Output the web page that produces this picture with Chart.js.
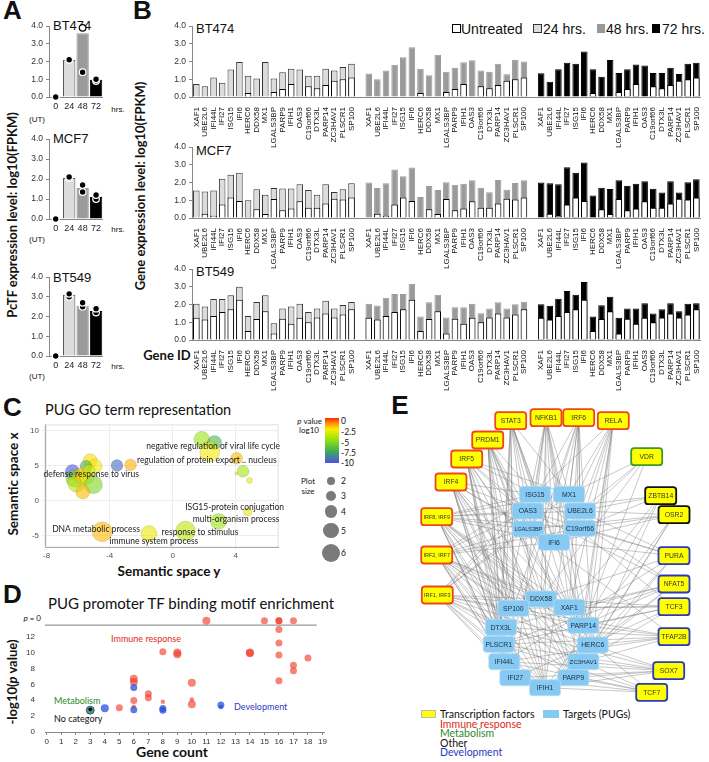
<!DOCTYPE html>
<html><head><meta charset="utf-8">
<script src="https://cdn.jsdelivr.net/npm/chart.js@4.4.1/dist/chart.umd.min.js"></script>
<style>
html,body{margin:0;padding:0;background:#fff}
body{position:relative;width:709px;height:762px;overflow:hidden;font-family:'Liberation Sans Narrow','Liberation Sans',Arial,sans-serif;color:#111}
canvas{position:absolute}
.t{position:absolute;white-space:nowrap;line-height:1}
.c{transform:translate(-50%,-50%)}
.l{transform:translate(0,-50%)}
.r{transform:translate(-100%,-50%)}
.v{transform:translate(-50%,-50%) rotate(-90deg)}
.letter{font-family:'Liberation Sans',Arial,sans-serif;font-weight:bold;font-size:26px}
.ttl{font-family:Lato,'Open Sans',sans-serif}
.b{font-weight:bold}
.sw{position:absolute;box-sizing:border-box}
</style></head><body>

<div class="t letter c" style="left:12.5px;top:10px">A</div>
<div class="t letter c" style="left:142.5px;top:10px">B</div>
<div class="t letter c" style="left:12.5px;top:407px">C</div>
<div class="t letter c" style="left:12.5px;top:594px">D</div>
<div class="t letter c" style="left:400px;top:405px">E</div>

<!-- panel A / B axis titles -->
<div class="t v b ttl" style="left:12px;top:215px;font-size:13px">PcTF expression level: log10(FPKM)</div>
<div class="t v b ttl" style="left:140px;top:186px;font-size:13px">Gene expression level: log10(FPKM)</div>
<div class="t c b ttl" style="left:167px;top:355px;font-size:13px">Gene ID</div>

<!-- panel A titles and extra labels -->
<div class="t l" style="left:53px;top:25px;font-size:13px">BT474</div>
<div class="t l" style="left:53px;top:138px;font-size:13px">MCF7</div>
<div class="t l" style="left:53px;top:277px;font-size:13px">BT549</div>
<div class="t c" style="left:118px;top:110px;font-size:8px">hrs.</div>
<div class="t c" style="left:118px;top:230px;font-size:8px">hrs.</div>
<div class="t c" style="left:118px;top:367px;font-size:8px">hrs.</div>
<div class="t c" style="left:37px;top:120px;font-size:8px">(UT)</div>
<div class="t c" style="left:37px;top:240px;font-size:8px">(UT)</div>
<div class="t c" style="left:37px;top:377px;font-size:8px">(UT)</div>

<!-- panel B row titles and legend -->
<div class="t l" style="left:196px;top:28px;font-size:13px">BT474</div>
<div class="t l" style="left:196px;top:150px;font-size:13px">MCF7</div>
<div class="t l" style="left:196px;top:271px;font-size:13px">BT549</div>
<div class="sw" style="left:452px;top:24px;width:9px;height:9px;border:1.3px solid #000;background:#fff"></div>
<div class="t l" style="left:461px;top:28.5px;font-size:14px">Untreated</div>
<div class="sw" style="left:533px;top:24px;width:9px;height:9px;border:1.3px solid #333;background:#dcdcdc"></div>
<div class="t l" style="left:543px;top:28.5px;font-size:14px">24 hrs.</div>
<div class="sw" style="left:597px;top:24px;width:8px;height:9px;background:#9a9a9a"></div>
<div class="t l" style="left:606px;top:28.5px;font-size:14px">48 hrs.</div>
<div class="sw" style="left:652px;top:24px;width:8px;height:9px;background:#000"></div>
<div class="t l" style="left:662px;top:28.5px;font-size:14px">72 hrs.</div>

<!-- panel C texts -->
<div class="t l ttl" style="left:45px;top:410px;font-size:14.5px">PUG GO term representation</div>
<div class="t v b ttl" style="left:14px;top:484px;font-size:13.5px">Semantic space x</div>
<div class="t c b ttl" style="left:169px;top:572px;font-size:13.5px">Semantic space y</div>
<div class="t r ttl" style="left:322px;top:421px;font-size:8px"><i>p</i> value</div>
<div class="t c ttl" style="left:309px;top:430px;font-size:8px">log10</div>
<div class="sw" style="left:325px;top:418px;width:14px;height:45px;background:linear-gradient(to bottom,rgb(255,40,0),rgb(255,150,0) 12.5%,rgb(255,235,0) 25%,rgb(140,225,20) 50%,rgb(60,170,90) 75%,rgb(80,80,230))"></div>
<div class="t l ttl" style="left:341px;top:421px;font-size:8.5px">0</div>
<div class="t l ttl" style="left:341px;top:432px;font-size:8.5px">-2.5</div>
<div class="t l ttl" style="left:341px;top:443px;font-size:8.5px">-5</div>
<div class="t l ttl" style="left:341px;top:453px;font-size:8.5px">-7.5</div>
<div class="t l ttl" style="left:341px;top:463px;font-size:8.5px">-10</div>
<div class="t c ttl" style="left:308px;top:481px;font-size:8px">Plot</div>
<div class="t c ttl" style="left:308px;top:491px;font-size:8px">size</div>

<!-- panel D texts -->
<div class="t l ttl" style="left:48px;top:603px;font-size:15px">PUG promoter TF binding motif enrichment</div>
<div class="t v b ttl" style="left:12px;top:682px;font-size:13px">-log10(<i>p</i> value)</div>
<div class="t c b ttl" style="left:172px;top:752px;font-size:14px">Gene count</div>
<div class="t c ttl" style="left:146px;top:638px;font-size:9px;color:#e02a1a">Immune response</div>
<div class="t l ttl" style="left:54px;top:700px;font-size:9px;color:#2a8a2a">Metabolism</div>
<div class="t l ttl" style="left:54px;top:718px;font-size:9px;color:#111">No category</div>
<div class="t l ttl" style="left:234px;top:706px;font-size:9px;color:#2a3ac0">Development</div>
<div class="t r ttl" style="left:41px;top:618px;font-size:8px"><i>p</i> = 0</div>

<!-- panel E legend -->
<div class="sw" style="left:421px;top:710px;width:15px;height:8px;background:#ffff00;border:1px solid #bbb"></div>
<div class="t l ttl" style="left:440px;top:714px;font-size:10.5px">Transcription factors</div>
<div class="t l ttl" style="left:440px;top:723.5px;font-size:10.5px;color:#e0281a">Immune response</div>
<div class="t l ttl" style="left:440px;top:733px;font-size:10.5px;color:#2a8a2a">Metabolism</div>
<div class="t l ttl" style="left:440px;top:743px;font-size:10.5px;color:#111">Other</div>
<div class="t l ttl" style="left:440px;top:752px;font-size:10.5px;color:#2a3ac0">Development</div>
<div class="sw" style="left:543px;top:710px;width:16px;height:8px;background:#86c9f2"></div>
<div class="t l ttl" style="left:563px;top:714px;font-size:10.5px">Targets (PUGs)</div>

<script>
// ---------- data ----------
const timeLabels = ['0', '24', '48', '72'];
const cellLines = ['BT474', 'MCF7', 'BT549'];

// panel A: PcTF log10(FPKM) (bar = log of mean), two replicates
const pctfBarBT474 = [0, 2.1, 3.6, 0.98];
const pctfRep1BT474 = [0, 2.1, 3.9, 1.0];
const pctfRep2BT474 = [0, 2.1, 1.4, 0.9];
const pctfOpenBT474 = [0, 0, 1, 0];
const pctfBarMCF7 = [0, 2.05, 1.55, 1.1];
const pctfRep1MCF7 = [0, 2.1, 1.7, 1.2];
const pctfRep2MCF7 = [0, 2.05, 1.35, 1.0];
const pctfBarBT549 = [0, 3.1, 2.55, 2.28];
const pctfRep1BT549 = [0, 3.15, 2.7, 2.4];
const pctfRep2BT549 = [0, 3.0, 2.5, 2.2];

// panel B: gene expression log10(FPKM)
const genes = ['XAF1','UBE2L6','IFI44L','IFI27','ISG15','IFI6','HERC6','DDX58','MX1','LGALS3BP',
  'PARP9','IFIH1','OAS3','C19orf66','DTX3L','PARP14','ZC3HAV1','PLSCR1','SP100'];
const untreatedBT474 = [0,0,0,0,0,0,0.22,0,0,0.28,0.45,0.73,0,0.6,0.5,0.68,0.92,1.0,1.1];
const h24BT474 = [0.73,0.6,1.1,0.8,1.55,1.98,1.2,1.05,1.98,1.05,1.4,1.6,1.55,1.2,1.2,1.6,1.5,1.69,1.87];
const h48BT474 = [1.32,1.0,1.5,1.82,2.24,2.8,1.6,1.23,2.38,1.43,1.65,1.96,2.07,1.5,1.43,1.87,1.28,2.1,2.0];
const h72BT474 = [1.34,0.86,1.56,1.93,1.87,2.57,1.56,1.14,2.09,1.36,1.56,1.83,1.78,1.36,1.36,1.65,1.3,1.87,1.93];
const untreatedMCF7 = [0,0.24,0.13,0.76,1.15,0.96,0.05,0.49,0.22,1.07,0.44,0.53,0.95,0.58,0.58,0.82,1.09,1.05,1.15];
const h24MCF7 = [1.55,1.49,1.55,2.22,2.44,2.55,1.0,1.62,1.31,1.69,1.67,1.67,1.91,1.58,1.31,1.91,1.47,1.62,1.96];
const h48MCF7 = [2.0,1.69,1.96,2.73,2.36,2.85,1.18,1.8,1.58,2.02,1.87,1.93,2.13,1.71,1.45,2.15,1.6,1.98,2.13];
const h72MCF7 = [2.0,1.96,1.91,2.87,2.55,3.13,1.27,1.71,1.64,2.13,1.82,1.93,2.07,1.65,1.44,2.07,1.44,2.02,2.18];
const untreatedBT549 = [1.25,1.15,1.36,1.58,1.73,2.27,0.51,1.18,1.62,0.36,1.2,0.91,1.25,1.0,1.27,1.49,1.27,1.44,1.73];
const h24BT549 = [2.04,1.89,2.31,2.31,2.53,3.0,1.36,2.15,2.53,0.95,1.78,1.89,2.04,1.58,1.78,2.22,1.78,1.98,2.15];
const h48BT549 = [2.04,1.95,2.38,2.6,2.6,3.18,1.33,2.13,2.55,1.27,1.85,1.85,2.05,1.51,1.78,2.13,1.78,2.02,2.16];
const h72BT549 = [2.02,1.93,2.33,2.76,2.55,3.27,1.33,1.96,2.44,1.25,1.78,1.78,2.07,1.49,1.73,2.07,1.62,2.04,2.07];

// panel C: GO terms in semantic space
const goX = [-6.36,-3.53,-2.67,-5.23,-4.92,-5.5,-6.2,-6.1,-5.75,-5.45,-5.03,-5.7,-5.3,1.85,2.66,2.36,4.06,4.04,4.47,4.88,4.76,2.91,0.82,-1.5,-4.47];
const goY = [4.09,5.0,5.09,5.68,4.9,4.9,3.2,2.5,3.6,3.3,2.27,1.23,4.3,8.73,8.27,6.96,6.04,3.86,4.18,2.86,-1.6,-2.96,-4.32,-4.69,-4.42];
const goSize = [4.3,3.3,3.3,4.1,4.1,3.3,5.6,5.6,4.8,4.1,5.6,4.1,3.3,4.8,4.1,6.3,3.3,0.1,3.3,1.1,1.9,4.8,6.3,4.8,6.3];
const goLogP = [-10,-9.3,-1.6,-2.2,-2.8,-7.2,-6,-4,-1.9,-3,-5.5,-1.8,-3.5,-4.7,-7,-2.8,-1.8,-3,-4.5,-3,-3,-4.6,-4,-3,-1.8];
const goLabels = ['negative regulation of viral life cycle','regulation of protein export .. nucleus','defense response to virus',
  'ISG15-protein conjugation','multi-organism process','DNA metabolic process','response to stimulus','immune system process'];
const goLabelX = [2.57,2.17,-5.17,3.93,4.02,-4.86,1.74,-1.19];
const goLabelY = [7.81,5.77,3.73,-0.89,-2.66,-4.02,-4.56,-5.79];
const plotSizes = [2, 3, 4, 5, 6];

// panel D: TF motif enrichment (gene count, -log10 p, marker weight)
const immuneCount = [11,15,16,16,17,16,16,16,16,14,14,17,17,18,8,9,9,10,10,10,8,7,7,6,6,6,6,5];
const immuneP = [14,14,14,14,14,12.9,11.2,9.7,6.45,10.0,9.9,8.4,7.7,9.3,10.1,10.0,9.8,6.2,3.5,4.1,3.8,4.8,4.3,6.7,6.3,3.95,3.2,3.05];
const immuneWeight = [3,2,2,2,2,2,2,2,2,3,3,2,2,2,2,3,3,3,3,1,1,2,2,3,3,2,1,2];
const devCount = [6,6,4,8,8,12,12];
const devP = [5.6,2.8,3.0,2.95,2.75,3.4,3.15];
const devWeight = [2,2,3,2,2,2,1];
const metabCount = [3];
const metabP = [2.75];
const otherCount = [3];
const otherP = [2.85];
const pZeroLevel = 13.45;

// panel E: network (layout coordinates)
const tfNames = ['STAT3','NFKB1','IRF6','RELA','PRDM1','IRF5','IRF4','IRF8, IRF9','IRF2, IRF7','IRF1, IRF3',
  'VDR','ZBTB14','OSR2','PURA','NFAT5','TCF3','TFAP2B','SOX7','TCF7'];
const tfGroup = ['I','I','I','I','I','I','I','I','I','I','M','O','O','D','D','D','D','D','D'];
const tfX = [150.7,186,218.7,253.3,127.7,106.7,91,76.7,76.7,77.3,286.7,300.7,314,314,314,314,314,308.7,291.7];
const tfY = [35.7,32.7,32.7,35.7,55,74,97,131.7,170,210,71.7,110.7,129.7,170.7,199,221.7,251.7,285.7,307.3];
const targetNames = ['ISG15','MX1','OAS3','UBE2L6','LGALS3BP','C19orf66','IFI6','DDX58','SP100','XAF1',
  'DTX3L','PARP14','PLSCR1','HERC6','IFI44L','ZC3HAV1','IFI27','PARP9','IFIH1'];
const targetX = [175,209,167.7,220,168.3,220,194,181,153.3,209.3,141,223.3,138.7,232.7,144.3,223.3,155.3,213.3,185];
const targetY = [109.3,109.3,126,126,144,143.3,157.3,214,223.3,222.3,242.3,240.3,259.3,260,276.7,276.7,292.7,292.7,302.7];
const tfTargets = [
  ['ISG15','OAS3','IFI6','SP100','DTX3L','PLSCR1','IFI44L','IFI27','IFIH1','PARP9','XAF1','MX1','HERC6'],
  ['ISG15','MX1','LGALS3BP','IFI6','DDX58','XAF1','PARP14','HERC6','IFI27','ZC3HAV1','PLSCR1','IFIH1'],
  ['MX1','UBE2L6','C19orf66','DDX58','XAF1','HERC6','IFIH1','IFI44L','SP100','PARP9','OAS3'],
  ['MX1','UBE2L6','C19orf66','PARP14','XAF1','HERC6','ZC3HAV1','IFI6','PARP9','ISG15'],
  ['ISG15','OAS3','LGALS3BP','SP100','DTX3L','PLSCR1','IFI44L','IFI27','IFIH1','PARP9','ZC3HAV1','DDX58','XAF1'],
  ['ISG15','OAS3','MX1','IFI6','SP100','DTX3L','IFI44L','PLSCR1','IFI27','PARP9','HERC6','IFIH1','PARP14'],
  ['ISG15','OAS3','LGALS3BP','IFI6','SP100','DTX3L','PLSCR1','IFI44L','IFI27','IFIH1','PARP9','ZC3HAV1','XAF1','DDX58'],
  ['ISG15','MX1','OAS3','UBE2L6','LGALS3BP','C19orf66','IFI6','SP100','DTX3L','PLSCR1','IFI44L','IFI27','IFIH1','PARP9','HERC6','ZC3HAV1','PARP14','XAF1','DDX58'],
  ['ISG15','OAS3','LGALS3BP','IFI6','SP100','DTX3L','PLSCR1','IFI44L','IFI27','IFIH1','PARP9','HERC6','ZC3HAV1','PARP14','XAF1','DDX58','C19orf66'],
  ['ISG15','OAS3','LGALS3BP','SP100','DTX3L','PLSCR1','IFI44L','IFI27','IFIH1','PARP9','HERC6','ZC3HAV1','PARP14','XAF1','DDX58','MX1'],
  ['MX1','UBE2L6','IFI6','PARP14','DDX58'],
  ['UBE2L6','C19orf66','HERC6','PARP14','XAF1','OAS3'],
  ['UBE2L6','C19orf66','IFI6','HERC6','ZC3HAV1','IFIH1','LGALS3BP'],
  ['C19orf66','UBE2L6','IFI6','HERC6','PARP9','SP100','IFI44L','OAS3'],
  ['XAF1','PARP14','HERC6','IFIH1','DTX3L','OAS3','ISG15','PLSCR1'],
  ['XAF1','PARP14','ZC3HAV1','IFI27','PLSCR1','ISG15','DDX58','SP100'],
  ['HERC6','PARP14','ZC3HAV1','IFI44L','PLSCR1','SP100','LGALS3BP','DTX3L'],
  ['HERC6','ZC3HAV1','PARP9','IFIH1','IFI27','IFI44L','DTX3L','PLSCR1'],
  ['ZC3HAV1','PARP9','IFIH1','HERC6','IFI27','PLSCR1','IFI44L']
];

// ---------- helpers ----------
Chart.defaults.animation = false;
Chart.defaults.responsive = false;
Chart.defaults.font.family = "'Liberation Sans Narrow','Liberation Sans',Arial,sans-serif";
Chart.defaults.color = '#333';
Chart.defaults.plugins.legend.display = false;
Chart.defaults.plugins.tooltip.enabled = false;

// make a canvas whose chart area lands on the given page box
function mkCanvas(area, ax) {
  const c = document.createElement('canvas');
  const w = Math.round(area.r - area.l + ax.yw + ax.pr);
  const h = Math.round(area.b - area.t + ax.pt + ax.xh);
  c.width = w; c.height = h;
  c.style.left = Math.round(area.l - ax.yw) + 'px';
  c.style.top = Math.round(area.t - ax.pt) + 'px';
  c.style.width = w + 'px'; c.style.height = h + 'px';
  document.body.appendChild(c);
  return c;
}
const fixW = w => s => { s.width = w; };
const fixH = h => s => { s.height = h; };

// ---------- panel A ----------
function pctfChart(area, bars, rep1, rep2, open1) {
  const ax = {yw: 25, xh: 30, pt: 6, pr: 4};
  const c = mkCanvas(area, ax);
  const pt = (d, open) => ({
    type: 'line', data: d, showLine: false, pointRadius: 3.3, clip: false,
    pointBackgroundColor: d.map((v, i) => open && open[i] ? '#fff' : '#000'),
    pointBorderColor: d.map((v, i) => open && open[i] ? '#000' : '#fff'),
    pointBorderWidth: 1.2
  });
  new Chart(c, {
    type: 'bar',
    data: {
      labels: timeLabels,
      datasets: [pt(rep1, open1), pt(rep2), {
        data: bars, barPercentage: 0.92, categoryPercentage: 1, borderWidth: 1,
        backgroundColor: ['#fff', '#dcdcdc', '#9a9a9a', '#000'],
        borderColor: ['#fff', '#555', '#9a9a9a', '#000']
      }]
    },
    options: {
      layout: {padding: {top: ax.pt, right: ax.pr, left: 0, bottom: 0}},
      scales: {
        x: {grid: {display: false, drawTicks: false}, border: {color: '#888'},
            ticks: {autoSkip: false, maxRotation: 0, minRotation: 0, font: {size: 9}, color: '#222', padding: 4},
            afterFit: fixH(ax.xh)},
        y: {min: 0, max: 4, border: {color: '#888'},
            grid: {drawOnChartArea: false, tickLength: 3, color: '#888'},
            ticks: {stepSize: 1, font: {size: 8.5}, color: '#333', padding: 3, callback: v => v.toFixed(1)},
            afterFit: fixW(ax.yw)}
      }
    }
  });
}
pctfChart({l: 49, r: 104, t: 24, b: 97}, pctfBarBT474, pctfRep1BT474, pctfRep2BT474, pctfOpenBT474);
pctfChart({l: 49, r: 104, t: 137, b: 219}, pctfBarMCF7, pctfRep1MCF7, pctfRep2MCF7);
pctfChart({l: 49, r: 104, t: 275, b: 356}, pctfBarBT549, pctfRep1BT549, pctfRep2BT549);

// ---------- panel B ----------
function geneChart(area, untreated, h24, h48, h72) {
  const ax = {yw: 22, xh: 52, pt: 6, pr: 4};
  const c = mkCanvas(area, ax);
  const labels = [...genes, '', ...genes, '', ...genes];
  const treated = [...h24, null, ...h48, null, ...h72];
  const base = [...untreated, null, ...untreated, null, ...untreated];
  const grp = i => i < 19 ? 0 : i < 39 ? 1 : 2;
  new Chart(c, {
    type: 'bar',
    data: {
      labels: labels,
      datasets: [
        {data: base, grouped: false, barPercentage: 0.76, categoryPercentage: 1,
         backgroundColor: '#fff', borderColor: '#000', borderWidth: 1},
        {data: treated, grouped: false, barPercentage: 0.76, categoryPercentage: 1,
         backgroundColor: labels.map((g, i) => ['#dcdcdc', '#9a9a9a', '#000'][grp(i)]),
         borderColor: labels.map((g, i) => ['#333', '#9a9a9a', '#000'][grp(i)]),
         borderWidth: 1}
      ]
    },
    options: {
      layout: {padding: {top: ax.pt, right: ax.pr, left: 0, bottom: 0}},
      scales: {
        x: {grid: {display: false}, border: {color: '#888'},
            ticks: {autoSkip: false, minRotation: 90, maxRotation: 90, font: {size: 8}, color: '#111', padding: 2},
            afterFit: fixH(ax.xh)},
        y: {min: 0, max: 4, border: {color: '#888'},
            grid: {drawOnChartArea: false, tickLength: 3, color: '#888'},
            ticks: {stepSize: 1, font: {size: 8.5}, color: '#333', padding: 3, callback: v => v.toFixed(1)},
            afterFit: fixW(ax.yw)}
      }
    }
  });
}
geneChart({l: 192, r: 704, t: 24, b: 97}, untreatedBT474, h24BT474, h48BT474, h72BT474);
geneChart({l: 192, r: 704, t: 145, b: 218}, untreatedMCF7, h24MCF7, h48MCF7, h72MCF7);
geneChart({l: 192, r: 704, t: 267, b: 340}, untreatedBT549, h24BT549, h48BT549, h72BT549);

// ---------- panel C ----------
const pStops = [[0, [255, 40, 0]], [-1.25, [255, 150, 0]], [-2.5, [255, 235, 0]],
  [-5, [140, 225, 20]], [-7.5, [60, 170, 90]], [-10, [80, 80, 230]]];
function pColor(v, a) {
  for (let i = 1; i < pStops.length; i++) {
    const [v0, c0] = pStops[i - 1], [v1, c1] = pStops[i];
    if (v >= v1 || i === pStops.length - 1) {
      const f = Math.min(1, Math.max(0, (v0 - v) / (v0 - v1)));
      const c = c0.map((x, k) => Math.round(x + (c1[k] - x) * f));
      return `rgba(${c[0]},${c[1]},${c[2]},${a})`;
    }
  }
}
const sizeToR = s => 1.35 * s + 1.5;

const goText = {
  id: 'goText',
  beforeDatasetsDraw(chart) {
    const {ctx, chartArea: a} = chart;
    ctx.save();
    ctx.strokeStyle = '#e2e2e2'; ctx.lineWidth = 1;
    ctx.strokeRect(a.left, a.top, a.right - a.left, a.bottom - a.top);
    ctx.restore();
  },
  afterDatasetsDraw(chart) {
    const {ctx, scales: {x, y}} = chart;
    ctx.save();
    ctx.font = "8.5px Lato, 'Open Sans', sans-serif";
    ctx.fillStyle = '#222'; ctx.textAlign = 'center'; ctx.textBaseline = 'middle';
    goLabels.forEach((s, i) => ctx.fillText(s, x.getPixelForValue(goLabelX[i]), y.getPixelForValue(goLabelY[i])));
    ctx.restore();
  }
};
{
  const ax = {yw: 30, xh: 12, pt: 5, pr: 4};
  const c = mkCanvas({l: 45, r: 285, t: 419, b: 547}, ax);
  new Chart(c, {
    type: 'bubble',
    data: {datasets: [{
      data: goX.map((x, i) => ({x: x, y: goY[i], r: sizeToR(goSize[i])})),
      backgroundColor: goLogP.map(v => pColor(v, 0.6)),
      borderColor: 'rgba(0,0,0,0.12)', borderWidth: 0.8
    }]},
    options: {
      layout: {padding: {top: ax.pt, right: ax.pr, left: 0, bottom: 0}},
      scales: {
        x: {min: -8.1, max: 6.7, border: {color: '#777'}, grid: {color: '#ededed', tickLength: 3},
            afterBuildTicks: s => { s.ticks = [-8, -4, 0, 4].map(v => ({value: v})); },
            ticks: {font: {size: 8}, color: '#555', padding: 1}, afterFit: fixH(ax.xh)},
        y: {min: -6.6, max: 10.8, border: {color: '#777'}, grid: {color: '#ededed', tickLength: 3},
            afterBuildTicks: s => { s.ticks = [-5, 0, 5, 10].map(v => ({value: v})); },
            ticks: {font: {size: 8}, color: '#555', padding: 3}, afterFit: fixW(ax.yw)}
      }
    },
    plugins: [goText]
  });
}
// size legend
const sizeLegendY = [481, 495.7, 511.7, 530.7, 553];
plotSizes.forEach((s, i) => {
  const r = sizeToR(s) - 0.5;
  const d = document.createElement('div');
  d.className = 'sw';
  d.style.cssText += `left:${331 - r}px;top:${sizeLegendY[i] - r}px;width:${2 * r}px;height:${2 * r}px;border-radius:50%;background:#7a7a7a`;
  document.body.appendChild(d);
  const t = document.createElement('div');
  t.className = 't l ttl';
  t.style.cssText = `left:341px;top:${sizeLegendY[i]}px;font-size:8.5px`;
  t.textContent = s;
  document.body.appendChild(t);
});

// ---------- panel D ----------
{
  const ax = {yw: 30, xh: 16, pt: 4, pr: 4};
  const c = mkCanvas({l: 45, r: 325, t: 614, b: 732}, ax);
  const wR = w => [0, 2.2, 3.5, 4][w];
  const pts = (xs, ys) => xs.map((x, i) => ({x: x, y: ys[i]}));
  new Chart(c, {
    type: 'scatter',
    data: {datasets: [
      {data: pts(otherCount, otherP), pointRadius: 1.8, backgroundColor: '#000', borderWidth: 0, clip: false},
      {data: pts(metabCount, metabP), pointRadius: 4, backgroundColor: 'rgba(60,150,70,0.9)', borderColor: '#2a3ac0', borderWidth: 0.8, clip: false},
      {data: pts(devCount, devP), pointRadius: devWeight.map(wR), backgroundColor: 'rgba(40,80,220,0.75)', borderWidth: 0, clip: false},
      {data: pts(immuneCount, immuneP), pointRadius: immuneWeight.map(wR), backgroundColor: 'rgba(240,55,35,0.62)', borderWidth: 0, clip: false},
      {type: 'line', data: [{x: -0.12, y: pZeroLevel}, {x: 18.6, y: pZeroLevel}], borderColor: '#999', borderWidth: 1.3, pointRadius: 0}
    ]},
    options: {
      layout: {padding: {top: ax.pt, right: ax.pr, left: 0, bottom: 0}},
      scales: {
        x: {min: -0.12, max: 19.12, border: {color: '#888'},
            grid: {drawOnChartArea: false, tickLength: 3, color: '#888'},
            afterBuildTicks: s => { s.ticks = Array.from({length: 20}, (_, i) => ({value: i})); },
            ticks: {autoSkip: false, maxRotation: 0, font: {size: 8}, color: '#333', padding: 2}, afterFit: fixH(ax.xh)},
        y: {min: 0, max: 14.5, border: {display: false}, grid: {display: false},
            afterBuildTicks: s => { s.ticks = [0, 2, 4, 6, 8, 10, 12].map(v => ({value: v})); },
            ticks: {font: {size: 8}, color: '#333', padding: 2},
            afterFit: fixW(ax.yw)}
      }
    }
  });
}

// ---------- panel E ----------
const groupBorder = {I: '#f0461e', M: '#3a9a2a', O: '#111', D: '#2a3ab8'};
const netNodes = {
  id: 'netNodes',
  afterDatasetsDraw(chart) {
    const {ctx, scales: {x, y}} = chart;
    ctx.save();
    ctx.textAlign = 'center'; ctx.textBaseline = 'middle';
    const box = (px, py, w, h, fill, stroke, lw) => {
      ctx.beginPath();
      if (ctx.roundRect) ctx.roundRect(px - w / 2, py - h / 2, w, h, 3); else ctx.rect(px - w / 2, py - h / 2, w, h);
      ctx.fillStyle = fill; ctx.fill();
      ctx.strokeStyle = stroke; ctx.lineWidth = lw; ctx.stroke();
    };
    // shrink the label font until it fits inside the box
    const label = (n, px, py, maxW) => {
      let fs = 6.8;
      ctx.font = `${fs}px 'Liberation Sans', Arial, sans-serif`;
      while (ctx.measureText(n).width > maxW && fs > 4) {
        fs -= 0.2;
        ctx.font = `${fs}px 'Liberation Sans', Arial, sans-serif`;
      }
      ctx.fillText(n, px, py + 0.5);
    };
    targetNames.forEach((n, i) => {
      const px = x.getPixelForValue(targetX[i]), py = y.getPixelForValue(targetY[i]);
      box(px, py, 31, 16, '#86c9f2', '#b5dcf5', 0.8);
      ctx.fillStyle = '#1c2c40'; label(n, px, py, 28);
    });
    tfNames.forEach((n, i) => {
      const px = x.getPixelForValue(tfX[i]), py = y.getPixelForValue(tfY[i]);
      box(px, py, 31, 17, '#ffff00', groupBorder[tfGroup[i]], 1.8);
      ctx.fillStyle = '#333'; label(n, px, py, 27);
    });
    ctx.restore();
  }
};
{
  // edges: one polyline broken by NaN points between each TF-target pair
  const edgePts = [];
  tfTargets.forEach((list, i) => list.forEach(t => {
    const k = targetNames.indexOf(t);
    edgePts.push({x: tfX[i], y: tfY[i]}, {x: targetX[k], y: targetY[k]}, {x: NaN, y: NaN});
  }));
  const c = mkCanvas({l: 360, r: 709, t: 385, b: 705}, {yw: 0, xh: 0, pt: 0, pr: 0});
  new Chart(c, {
    type: 'scatter',
    data: {datasets: [{data: edgePts, showLine: true, spanGaps: false, pointRadius: 0,
      borderColor: 'rgba(110,110,110,0.55)', borderWidth: 0.7}]},
    options: {
      layout: {padding: 0},
      scales: {x: {display: false, min: 0, max: 349}, y: {display: false, min: 0, max: 320, reverse: true}}
    },
    plugins: [netNodes]
  });
}
</script>
</body></html>
